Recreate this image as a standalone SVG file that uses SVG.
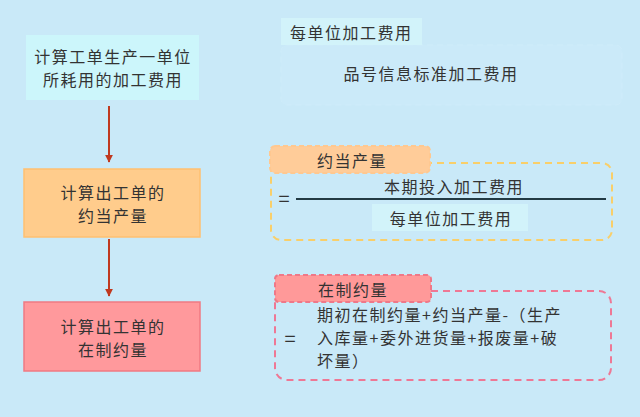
<svg xmlns="http://www.w3.org/2000/svg" width="640" height="417" viewBox="0 0 640 417">
<defs>
<style>
text{font-family:"Noto Sans CJK SC","Noto Sans",sans-serif;font-size:16px;letter-spacing:1.5px;fill:#333;dominant-baseline:central}
.c{text-anchor:middle}
.eq{font-size:20px;letter-spacing:0}
.conn{stroke:#c0391f;stroke-width:2;fill:none}
</style>
<marker id="ah" viewBox="0 0 10 10" refX="9" refY="5" markerWidth="4" markerHeight="4" orient="auto"><path d="M0,0L10,5L0,10z" fill="#c0391f"/></marker>
</defs>
<rect width="640" height="417" fill="#c9e9f8"/>
<g id="connectors">
<line class="conn" x1="109" y1="106" x2="109" y2="162" marker-end="url(#ah)"/>
<line class="conn" x1="109" y1="239" x2="109" y2="296" marker-end="url(#ah)"/>
</g>
<g id="node-unit-cost">
<rect x="26" y="35" width="173" height="65" fill="#ccf6fb"/>
<text class="c" x="113" y="56">计算工单生产一单位</text>
<text class="c" x="113" y="79">所耗用的加工费用</text>
</g>
<g id="node-equiv">
<rect x="24" y="169" width="176" height="68" fill="#ffcc8c" stroke="#ffc070" stroke-width="1.5"/>
<text class="c" x="113" y="192">计算出工单的</text>
<text class="c" x="113" y="215">约当产量</text>
</g>
<g id="node-wip">
<rect x="24" y="302" width="176" height="69" fill="#ff999c" stroke="#f07a82" stroke-width="1.5"/>
<text class="c" x="113" y="326">计算出工单的</text>
<text class="c" x="113" y="349">在制约量</text>
</g>
<g id="note-unit">
<rect x="281" y="45" width="341" height="60" rx="6" fill="#cbeaf9" stroke="#cfecfa" stroke-width="1" stroke-dasharray="6 4"/>
<rect x="281" y="18" width="141" height="27" fill="#d2f3fa"/>
<text x="290" y="32">每单位加工费用</text>
<text class="c" x="431" y="73">品号信息标准加工费用</text>
</g>
<g id="note-equiv">
<rect x="271" y="163" width="341" height="77" rx="10" fill="none" stroke="#f9cf6a" stroke-width="2" stroke-dasharray="7 5"/>
<rect x="270" y="146" width="160" height="27" rx="5" fill="#ffcc99" stroke="#ffc890" stroke-width="2" stroke-dasharray="5 3"/>
<text class="c" x="352" y="160">约当产量</text>
<text class="c eq" x="284" y="197">=</text>
<line x1="296" y1="199" x2="606" y2="199" stroke="#223a44" stroke-width="2"/>
<text class="c" x="454" y="186">本期投入加工费用</text>
<rect x="372" y="204" width="156" height="27" fill="#d2f3fa"/>
<text class="c" x="451" y="218">每单位加工费用</text>
</g>
<g id="note-wip">
<rect x="275" y="291" width="336" height="89" rx="12" fill="none" stroke="#ee7895" stroke-width="2" stroke-dasharray="7 5"/>
<rect x="275" y="275" width="156" height="27" rx="4" fill="#ff9999" stroke="#ef7888" stroke-width="2" stroke-dasharray="5 3"/>
<text x="318" y="289">在制约量</text>
<text class="c eq" x="290" y="337">=</text>
<text x="317" y="314">期初在制约量+约当产量-（生产</text>
<text x="317" y="337">入库量+委外进货量+报废量+破</text>
<text x="317" y="360">坏量）</text>
</g>
</svg>
